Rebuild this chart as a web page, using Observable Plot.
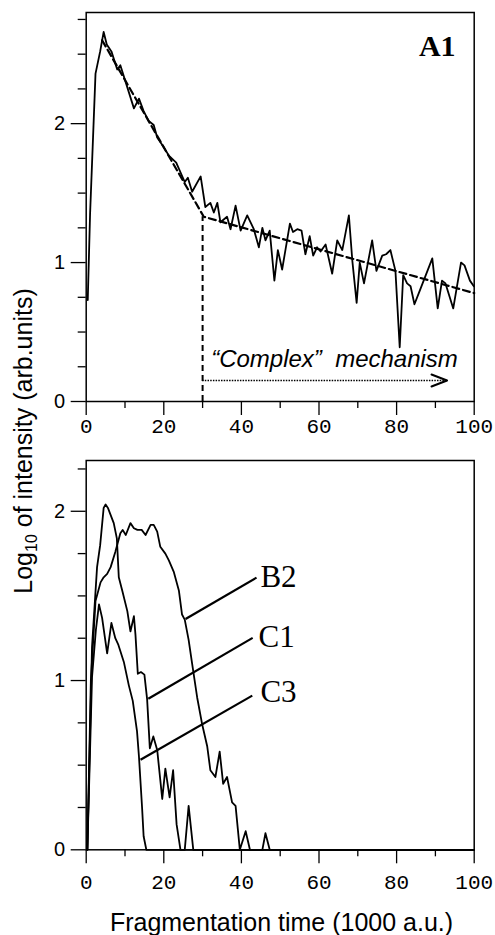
<!DOCTYPE html>
<html><head><meta charset="utf-8">
<script src="https://cdn.jsdelivr.net/npm/d3@7"></script>
<script src="https://cdn.jsdelivr.net/npm/@observablehq/plot@0.6"></script>
<style>
body{margin:0;background:#fff;}
#chart{position:relative;width:495px;height:935px;overflow:hidden;font-family:"Liberation Sans",Arial,sans-serif;color:#000;}
#top{position:absolute;left:0;top:0;}
#bottom{position:absolute;left:0;top:440px;}
#ylab{position:absolute;left:23px;top:441px;transform:translate(-50%,-50%) rotate(-90deg);font-size:25px;white-space:nowrap;line-height:25px;}
#ylab sub{font-size:16px;vertical-align:-5px;line-height:0;}
#xlab{position:absolute;left:0;width:563px;top:910px;text-align:center;font-size:25px;line-height:25px;white-space:nowrap;}
</style>
</head><body>
<div id="chart">
  <div id="top"></div>
  <div id="bottom"></div>
  <div id="ylab">Log<sub>10</sub> of intensity (arb.units)</div>
  <div id="xlab">Fragmentation time (1000 a.u.)</div>
</div>
<script>
// ---------- data ----------
// Panel A1 (top): measured log10 intensity
const a1Time = [0.4,1.0,2.4,3.6,4.5,5.3,6.5,8.0,8.8,12.3,13.6,14.8,16.1,17.4,18.3,20.0,21.3,23.2,25.4,26.2,27.3,29.5,30.7,32.0,32.9,33.8,34.6,36.3,37.2,38.5,39.8,41.5,43.2,44.5,45.4,46.2,47.3,48.5,49.4,50.5,52.5,53.3,54.4,55.5,56.5,57.6,58.5,59.5,60.4,61.7,63.4,64.7,66.0,67.7,68.6,69.7,70.5,71.6,73.7,74.8,76.3,77.3,78.4,79.7,80.8,81.7,82.7,83.6,84.6,86.0,89.2,90.6,91.7,92.6,94.6,96.6,97.5,98.9,99.9];
const a1LogI = [0.73,1.35,2.36,2.52,2.66,2.57,2.52,2.39,2.42,2.11,2.18,2.09,2.02,1.99,1.90,1.83,1.77,1.72,1.58,1.61,1.51,1.62,1.40,1.43,1.36,1.43,1.29,1.33,1.24,1.41,1.23,1.34,1.24,1.11,1.25,1.16,1.23,0.87,1.09,0.95,1.28,1.22,1.24,1.23,1.06,1.19,1.05,1.11,1.08,1.13,0.92,1.16,1.09,1.34,1.01,0.71,1.00,0.85,1.16,0.94,1.05,1.06,1.09,0.94,0.39,0.91,0.85,0.83,0.70,0.80,1.03,0.67,0.87,0.85,0.67,1.00,0.98,0.87,0.83];
// Two-slope fit (dashed)
const fitTime = [4.1, 30.3, 100];
const fitLogI = [2.60, 1.33, 0.78];
const breakTime = 30;       // onset of the "complex" mechanism
const breakLogI = 1.33;
// Dotted arrow annotation
const arrowStart = 30, arrowEnd = 93, arrowLevel = 0.151;
const arrowHeadTime = [89.0, 93.0, 89.0];
const arrowHeadLogI = [0.194, 0.151, 0.108];
const mechText = "\u201CComplex\u201D\u00A0 mechanism";
const mechPos = [32.2, 0.247];
const panelTopLabel = "A1";
const panelTopLabelPos = [95.2, 2.49];

// Panel (bottom): B2, C1, C3
const b2Time = [0.3,1.2,2.4,3.7,4.5,5.4,6.3,7.5,8.8,9.4,10.2,11.4,12.3,13.2,14.3,15.3,16.6,17.4,18.3,19.1,20.4,21.3,22.6,23.9,24.7,25.4,26.4,27.3,28.6,29.9,31.2,32.0,33.3,34.4,35.3,36.3,37.6,38.5,39.6,41.1,42.2,45.4,46.2,47.3,100];
const b2LogI = [0,1.00,1.47,1.58,1.61,1.63,1.67,1.76,1.87,1.89,1.86,1.93,1.90,1.89,1.89,1.86,1.92,1.92,1.88,1.79,1.75,1.71,1.64,1.53,1.39,1.36,1.24,1.10,0.90,0.74,0.61,0.47,0.43,0.58,0.39,0.43,0.28,0.26,0,0.11,0,0,0.098,0,0];
const c1Time = [0.3,1.5,2.8,3.6,4.5,5.0,5.6,7.1,7.9,8.4,9.3,10.6,11.4,12.3,12.7,13.3,14.1,15.0,15.7,16.4,17.3,18.3,19.6,20.4,21.5,22.4,23.3,24.3,25.4,26.4,27.6,100];
const c1LogI = [0,1.20,1.67,1.80,2.02,2.04,2.02,1.93,1.84,1.61,1.53,1.41,1.29,1.38,1.27,1.04,1.05,1.035,0.89,0.60,0.67,0.59,0.30,0.48,0.31,0.47,0.15,0,0,0.26,0,0];
const c3Time = [0.3,1.5,2.5,3.3,4.1,5.4,6.5,7.5,8.3,9.7,11.0,12.0,13.1,13.6,14.4,14.8,15.5,100];
const c3LogI = [0,1.02,1.30,1.45,1.37,1.16,1.34,1.25,1.21,1.11,0.97,0.88,0.70,0.55,0.25,0.08,0,0];
// Curve labels and their leader lines
const curveNames = ["B2", "C1", "C3"];
const leaderFromTime = [25.6, 16.0, 14.0];
const leaderFromLogI = [1.364, 0.892, 0.532];
const leaderToTime = [43.9, 42.9, 42.8];
const leaderToLogI = [1.608, 1.252, 0.911];
const labelTime = [44.9, 44.4, 44.9];
const labelLogI = [1.551, 1.197, 0.872];

// Axis ticks
const xMajorTicks = [0, 20, 40, 60, 80, 100];
const xMinorTicks = [10, 30, 50, 70, 90];
const yMajorTicks = [0, 1, 2];
const yMinorTicksTop = [0.25, 0.5, 0.75, 1.25, 1.5, 1.75, 2.25, 2.5, 2.75];
const yMinorTicksBottom = [0.25, 0.5, 0.75, 1.25, 1.5, 1.75, 2.25];

// ---------- build tables ----------
const zip = (xs, ys) => xs.map((t, i) => ({t, v: ys[i]}));
const a1 = zip(a1Time, a1LogI);
const fit = zip(fitTime, fitLogI);
const head = zip(arrowHeadTime, arrowHeadLogI);
const curves = [
  ...zip(b2Time, b2LogI).map(d => ({...d, s: "B2"})),
  ...zip(c1Time, c1LogI).map(d => ({...d, s: "C1"})),
  ...zip(c3Time, c3LogI).map(d => ({...d, s: "C3"}))
];
const leaders = curveNames.map((n, i) => ({n, x1: leaderFromTime[i], y1: leaderFromLogI[i], x2: leaderToTime[i], y2: leaderToLogI[i]}));
const labels = curveNames.map((n, i) => ({n, t: labelTime[i], v: labelLogI[i]}));

const tickFont = "Liberation Mono, Courier New, monospace";
const yFont = "Liberation Sans, Arial, sans-serif";
const fmt = d => String(d);
const axes = (yMinor) => [
  Plot.axisX({ticks: xMinorTicks, tickSize: 7, tickFormat: () => "", label: null, strokeWidth: 1.3}),
  Plot.axisY({ticks: yMinor, tickSize: 8, tickFormat: () => "", label: null, strokeWidth: 1.3}),
  Plot.axisY({ticks: yMajorTicks, tickSize: 15, tickPadding: 6, tickFormat: fmt, fontSize: 20, fontFamily: yFont, label: null, strokeWidth: 1.3}),
];

const topPlot = Plot.plot({
  width: 495, height: 440,
  marginLeft: 85.7, marginRight: 21.3, marginTop: 12, marginBottom: 39,
  x: {domain: [0, 100]},
  y: {domain: [0, 2.8]},
  style: {background: "transparent", color: "black", fontFamily: yFont},
  marks: [
    ...axes(yMinorTicksTop),
    Plot.axisX({ticks: xMajorTicks, tickSize: 14, tickPadding: 3, tickFormat: fmt, fontSize: 21, fontFamily: tickFont, label: null, strokeWidth: 1.3}),
    Plot.frame({strokeWidth: 1.5}),
    Plot.ruleX([{t: breakTime, v: breakLogI}], {x: "t", y1: 0, y2: "v", strokeWidth: 2, strokeDasharray: "6,4"}),
    Plot.line(fit, {x: "t", y: "v", strokeWidth: 2.2, strokeDasharray: "7,4"}),
    Plot.line(a1, {x: "t", y: "v", strokeWidth: 1.8}),
    Plot.ruleY([{v: arrowLevel, a: arrowStart, b: arrowEnd}], {y: "v", x1: "a", x2: "b", strokeWidth: 1.6, strokeDasharray: "1.5,1.2"}),
    Plot.line(head, {x: "t", y: "v", strokeWidth: 2}),
    Plot.text([{t: mechPos[0], v: mechPos[1], s: mechText}], {x: "t", y: "v", text: "s", textAnchor: "start", lineAnchor: "bottom", fontSize: 24, fontStyle: "italic", fontFamily: yFont}),
    Plot.text([{t: panelTopLabelPos[0], v: panelTopLabelPos[1], s: panelTopLabel}], {x: "t", y: "v", text: "s", textAnchor: "end", lineAnchor: "bottom", fontSize: 30, fontWeight: "bold", fontFamily: "Liberation Serif, Times New Roman, serif"})
  ]
});
document.getElementById("top").append(topPlot);

const bottomPlot = Plot.plot({
  width: 495, height: 460,
  marginLeft: 85.7, marginRight: 21.3, marginTop: 20, marginBottom: 50.7,
  x: {domain: [0, 100]},
  y: {domain: [0, 2.3]},
  style: {background: "transparent", color: "black", fontFamily: yFont},
  marks: [
    ...axes(yMinorTicksBottom),
    Plot.axisX({ticks: xMajorTicks, tickSize: 14, tickPadding: 10, tickFormat: fmt, fontSize: 21, fontFamily: tickFont, label: null, strokeWidth: 1.3}),
    Plot.frame({strokeWidth: 1.5}),
    Plot.line(curves, {x: "t", y: "v", z: "s", strokeWidth: 1.8}),
    Plot.link(leaders, {x1: "x1", y1: "y1", x2: "x2", y2: "y2", strokeWidth: 2.2}),
    Plot.text(labels, {x: "t", y: "v", text: "n", textAnchor: "start", lineAnchor: "bottom", fontSize: 31, fontFamily: "Liberation Serif, Times New Roman, serif"})
  ]
});
document.getElementById("bottom").append(bottomPlot);
</script>
</body></html>
